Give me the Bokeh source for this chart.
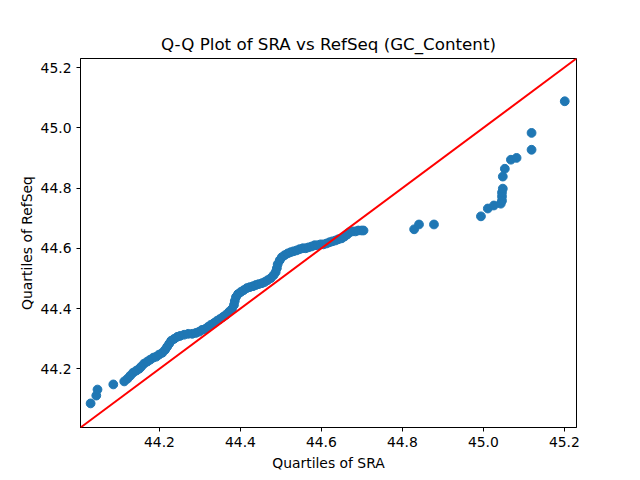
from bokeh.plotting import figure
from bokeh.models import Range1d, FixedTicker, PrintfTickFormatter, Slope
from bokeh.embed import file_html
from bokeh.resources import INLINE

# Sorted quantiles of GC content for the two sources
sra_quantiles = [
    44.030, 44.044, 44.047, 44.086, 44.113, 44.121, 44.128, 44.135, 44.143, 44.150,
    44.155, 44.162, 44.170, 44.177, 44.185, 44.192, 44.199, 44.207, 44.214, 44.219,
    44.224, 44.229, 44.236, 44.244, 44.251, 44.261, 44.271, 44.281, 44.290, 44.298,
    44.305, 44.313, 44.320, 44.327, 44.335, 44.342, 44.349, 44.357, 44.364, 44.372,
    44.379, 44.384, 44.386, 44.389, 44.394, 44.401, 44.408, 44.416, 44.423, 44.431,
    44.438, 44.445, 44.453, 44.460, 44.467, 44.475, 44.482, 44.487, 44.490, 44.492,
    44.497, 44.502, 44.509, 44.517, 44.524, 44.531, 44.539, 44.546, 44.554, 44.561,
    44.568, 44.576, 44.583, 44.590, 44.598, 44.605, 44.613, 44.620, 44.627, 44.635,
    44.642, 44.650, 44.657, 44.664, 44.669, 44.677, 44.684, 44.691, 44.699, 44.704,
    44.829, 44.841, 44.878, 44.994, 45.011, 45.026, 45.043, 45.046, 45.046, 45.046,
    45.048, 45.048, 45.053, 45.068, 45.082, 45.119, 45.119, 45.201,
]
refseq_quantiles = [
    44.085, 44.111, 44.131, 44.148, 44.158, 44.167, 44.177, 44.187, 44.194, 44.200,
    44.207, 44.217, 44.224, 44.230, 44.237, 44.240, 44.247, 44.253, 44.263, 44.273,
    44.283, 44.293, 44.299, 44.306, 44.309, 44.313, 44.316, 44.316, 44.319, 44.323,
    44.329, 44.332, 44.339, 44.346, 44.352, 44.359, 44.365, 44.372, 44.379, 44.389,
    44.398, 44.412, 44.425, 44.438, 44.448, 44.455, 44.461, 44.468, 44.471, 44.474,
    44.478, 44.481, 44.484, 44.488, 44.494, 44.501, 44.511, 44.521, 44.534, 44.547,
    44.560, 44.570, 44.577, 44.583, 44.587, 44.590, 44.593, 44.597, 44.600, 44.600,
    44.603, 44.606, 44.610, 44.610, 44.613, 44.613, 44.616, 44.620, 44.623, 44.626,
    44.630, 44.633, 44.639, 44.646, 44.653, 44.656, 44.656, 44.659, 44.659, 44.659,
    44.663, 44.679, 44.679, 44.706, 44.732, 44.742, 44.748, 44.758, 44.772, 44.785,
    44.798, 44.838, 44.864, 44.894, 44.900, 44.927, 44.983, 45.088,
]

axis_ticks = [44.2, 44.4, 44.6, 44.8, 45.0, 45.2]
axis_limits = (44.005, 45.230)

FONT = "DejaVu Sans"
TICK_PX = "13.9px"

p = figure(
    width=640, height=480,
    x_range=Range1d(*axis_limits), y_range=Range1d(*axis_limits),
    title="Q-Q Plot of SRA vs RefSeq (GC_Content)",
    x_axis_label="Quartiles of SRA", y_axis_label="Quartiles of RefSeq",
    toolbar_location=None, output_backend="svg",
    min_border_left=80, min_border_right=64, min_border_top=58, min_border_bottom=53,
)
p.background_fill_color = "white"
p.border_fill_color = "white"
p.outline_line_color = "black"
p.outline_line_width = 1
p.grid.visible = False

p.title.align = "center"
p.title.text_font = FONT
p.title.text_font_size = "16.7px"
p.title.text_font_style = "normal"
p.title.text_color = "black"

for ax in (p.xaxis[0], p.yaxis[0]):
    ax.ticker = FixedTicker(ticks=axis_ticks)
    ax.formatter = PrintfTickFormatter(format="%.1f")
    ax.minor_tick_line_color = None
    ax.major_tick_in = 0
    ax.major_tick_out = 4
    ax.major_tick_line_color = "black"
    ax.axis_line_color = "black"
    ax.major_label_text_font = FONT
    ax.major_label_text_font_size = TICK_PX
    ax.major_label_text_color = "black"
    ax.major_label_standoff = 5
    ax.axis_label_text_font = FONT
    ax.axis_label_text_font_size = TICK_PX
    ax.axis_label_text_font_style = "normal"
    ax.axis_label_text_color = "black"

p.xaxis[0].axis_label_standoff = 5
p.yaxis[0].axis_label_standoff = 3

p.scatter(sra_quantiles, refseq_quantiles, size=8.8,
          fill_color="#1f77b4", line_color="#1f77b4", line_width=1)

# 45-degree reference line y = x
p.add_layout(Slope(gradient=1, y_intercept=0, line_color="red", line_width=2))

open("out.html", "w").write(file_html(p, INLINE))
